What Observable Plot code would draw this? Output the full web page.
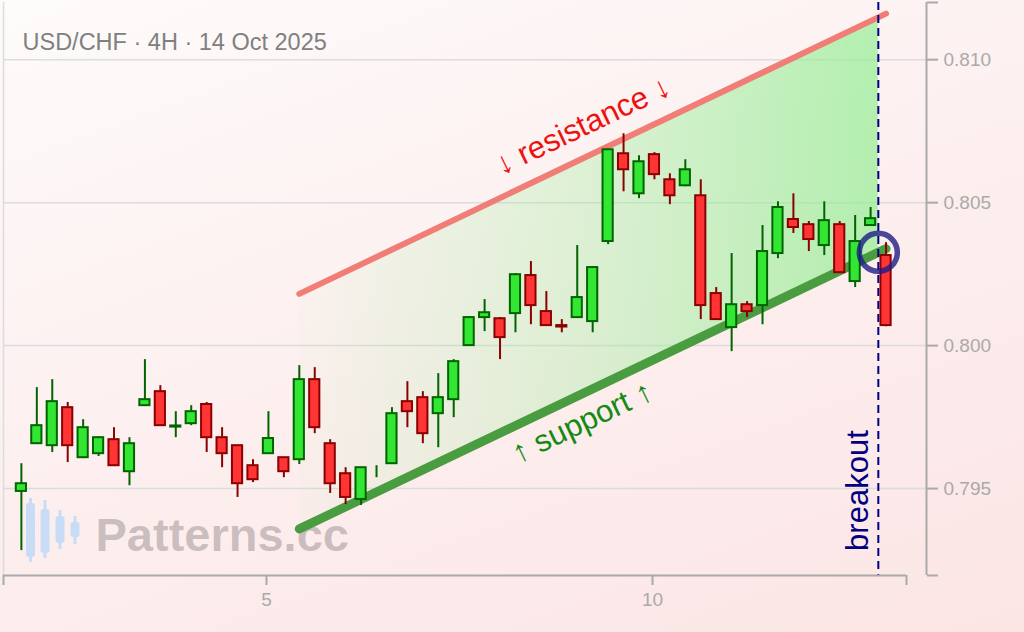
<!DOCTYPE html>
<html><head><meta charset="utf-8">
<script src="https://cdn.jsdelivr.net/npm/d3@7"></script>
<script src="https://cdn.jsdelivr.net/npm/@observablehq/plot@0.6"></script>
<style>
html,body{margin:0;padding:0;}
body{width:1024px;height:632px;overflow:hidden;position:relative;
  background:linear-gradient(160deg,#fefbfb 0%,#fdf0f0 45%,#fce5e5 100%);
  font-family:"Liberation Sans",Arial,sans-serif;}
#logo{position:absolute;left:0;top:0;}
#chart{position:absolute;left:0;top:0;}
</style></head><body>
<svg id="logo" width="100" height="632">
  <g fill="#c8dcf6" stroke="#c8dcf6">
    <line x1="30.5" x2="30.5" y1="498" y2="562" stroke-width="3"/><rect x="26" y="503" width="9" height="54" rx="3" stroke="none"/>
    <line x1="45" x2="45" y1="500" y2="558" stroke-width="3"/><rect x="40.5" y="509" width="9" height="44" rx="3" stroke="none"/>
    <line x1="60" x2="60" y1="510" y2="549" stroke-width="3"/><rect x="55.5" y="516" width="9" height="27" rx="3" stroke="none"/>
    <line x1="75" x2="75" y1="516" y2="544" stroke-width="3"/><rect x="70.5" y="522" width="9" height="15" rx="3" stroke="none"/>
  </g>
</svg>
<div id="chart"></div>
<script>
const title = "USD/CHF · 4H · 14 Oct 2025";
const watermark = "Patterns.cc";

// OHLC per 4H candle
const opens  = [0.79490,0.79657,0.79650,0.79783,0.79608,0.79622,0.79671,0.79559,0.79790,0.79839,
                0.79715,0.79727,0.79794,0.79678,0.79650,0.79580,0.79622,0.79608,0.79601,0.79881,
                0.79657,0.79552,0.79462,0.79559,0.79587,0.79804,0.79818,0.79762,0.79811,0.80000,
                0.80098,0.80094,0.80112,0.80245,0.80119,0.80070,0.80098,0.80084,0.80364,0.80671,
                0.80531,0.80668,0.80580,0.80559,0.80524,0.80182,0.80063,0.80143,0.80140,0.80322,
                0.80441,0.80423,0.80350,0.80423,0.80224,0.80420,0.80315];
const highs  = [0.79587,0.79853,0.79881,0.79801,0.79741,0.79680,0.79713,0.79678,0.79951,0.79860,
                0.79769,0.79790,0.79801,0.79713,0.79650,0.79601,0.79769,0.79608,0.79930,0.79923,
                0.79671,0.79573,0.79573,0.79580,0.79783,0.79874,0.79839,0.79902,0.79951,0.80101,
                0.80161,0.80098,0.80252,0.80294,0.80189,0.80091,0.80350,0.80276,0.80685,0.80741,
                0.80664,0.80675,0.80601,0.80650,0.80580,0.80203,0.80322,0.80154,0.80420,0.80503,
                0.80531,0.80434,0.80503,0.80434,0.80455,0.80483,0.80360];
const lows   = [0.79283,0.79654,0.79626,0.79591,0.79605,0.79612,0.79577,0.79510,0.79787,0.79717,
                0.79678,0.79720,0.79626,0.79573,0.79469,0.79521,0.79622,0.79538,0.79584,0.79692,
                0.79483,0.79444,0.79441,0.79538,0.79587,0.79713,0.79657,0.79643,0.79748,0.80000,
                0.80049,0.79951,0.80045,0.80073,0.80070,0.80045,0.80098,0.80045,0.80353,0.80538,
                0.80514,0.80580,0.80493,0.80556,0.80091,0.80091,0.79979,0.80098,0.80073,0.80304,
                0.80392,0.80329,0.80315,0.80252,0.80203,0.80420,0.80066];
const closes = [0.79517,0.79720,0.79804,0.79650,0.79713,0.79678,0.79580,0.79657,0.79811,0.79720,
                0.79719,0.79769,0.79678,0.79622,0.79517,0.79531,0.79675,0.79559,0.79881,0.79713,
                0.79517,0.79469,0.79573,0.79559,0.79762,0.79769,0.79692,0.79818,0.79944,0.80098,
                0.80115,0.80028,0.80248,0.80140,0.80070,0.80065,0.80168,0.80273,0.80685,0.80615,
                0.80643,0.80598,0.80524,0.80615,0.80140,0.80091,0.80143,0.80119,0.80329,0.80483,
                0.80413,0.80371,0.80437,0.80255,0.80364,0.80444,0.80070];
const candleStart = 1.825, candleStep = 0.2;

// channel (support / resistance) endpoints
const channelX    = [5.425, 13.025];
const resistanceY = [0.80181, 0.81161];
const supportY    = [0.79359, 0.80339];
const breakoutX   = 12.925;

// axes
const xTickLabels = [5, 10];
const yTickLabels = [0.795, 0.800, 0.805, 0.810];
const xDomain = [1.5933, 13.549];
const xAxisEnd = 13.290;
const yDomain = [0.79196, 0.8120];

// annotation anchors
const resistanceLabel = {x: 9.10, y: 0.80769, text: "↓ resistance ↓"};
const supportLabel    = {x: 9.09, y: 0.79732, text: "↑ support ↑"};
const breakoutLabel   = {x: 12.668, y: 0.79493, text: "breakout"};

const candles = opens.map((o, i) => ({
  x: candleStart + i * candleStep, o, h: highs[i], l: lows[i], c: closes[i], up: closes[i] >= o
}));
const lerp = (arr, x) => arr[0] + (arr[1] - arr[0]) * (x - channelX[0]) / (channelX[1] - channelX[0]);
const channelArea = [channelX[0], breakoutX].map(x => ({x, lo: lerp(supportY, x), hi: lerp(resistanceY, x)}));
const resLine = channelX.map((x, i) => ({x, y: resistanceY[i]}));
const supLine = channelX.map((x, i) => ({x, y: supportY[i]}));
const breakPoint = [{x: breakoutX, y: lerp(supportY, breakoutX)}];
const halfBody = 0.066;
const angle = -25.5;
const f3 = d3.format(".3f");

const chart = Plot.plot({
  width: 1024, height: 632,
  marginLeft: 3, marginRight: 98, marginTop: 2, marginBottom: 57,
  x: {domain: xDomain},
  y: {domain: yDomain},
  color: {type: "identity"},
  style: {background: "transparent", fontFamily: "Liberation Sans, Arial, sans-serif"},
  marks: [
    () => {
      const defs = document.createElementNS("http://www.w3.org/2000/svg", "defs");
      defs.innerHTML = '<linearGradient id="chanFill" x1="0" x2="1" y1="0" y2="0">' +
        '<stop offset="0" stop-color="#90ee90" stop-opacity="0.03"/>' +
        '<stop offset="0.5" stop-color="#90ee90" stop-opacity="0.3"/>' +
        '<stop offset="1" stop-color="#90ee90" stop-opacity="0.68"/></linearGradient>';
      return defs;
    },
    Plot.ruleY(yTickLabels, {x1: xDomain[0], x2: xDomain[1], stroke: "#dcdcdc", strokeWidth: 1.5}),
    Plot.ruleX([xDomain[0]], {stroke: "#dcdcdc", strokeWidth: 1.5}),
    Plot.text([title], {frameAnchor: "top-left", dx: 19, dy: 47, lineAnchor: "bottom", textAnchor: "start",
      fontSize: 23.5, fill: "#808080"}),
    Plot.text([watermark], {frameAnchor: "bottom-left", dx: 92, dy: -25, lineAnchor: "bottom", textAnchor: "start",
      fontSize: 47, fontWeight: "bold", fill: "#7a7070", fillOpacity: 0.38}),
    Plot.areaY(channelArea, {x: "x", y1: "lo", y2: "hi", fill: "url(#chanFill)"}),
    Plot.line(resLine, {x: "x", y: "y", stroke: "#f07e76", strokeWidth: 6, strokeLinecap: "round"}),
    Plot.line(supLine, {x: "x", y: "y", stroke: "#4a9c40", strokeWidth: 9, strokeLinecap: "round"}),
    Plot.ruleX([breakoutX], {stroke: "#000080", strokeWidth: 2, strokeDasharray: "8,5"}),
    Plot.ruleX(candles, {x: "x", y1: "l", y2: "h", stroke: d => d.up ? "#006400" : "#8b0000", strokeWidth: 2}),
    Plot.rect(candles.filter(d => d.o !== d.c), {
      x1: d => d.x - halfBody, x2: d => d.x + halfBody, y1: "o", y2: "c",
      fill: d => d.up ? "#33e633" : "#ff3535", stroke: d => d.up ? "#006400" : "#8b0000", strokeWidth: 2
    }),
    Plot.dot(breakPoint, {x: "x", y: "y", r: 19, fill: "none", stroke: "#1c1c86", strokeOpacity: 0.8, strokeWidth: 5.5}),
    Plot.text([resistanceLabel], {x: "x", y: "y", text: "text", rotate: angle, fontSize: 31, fill: "#ee1111"}),
    Plot.text([supportLabel], {x: "x", y: "y", text: "text", rotate: angle, fontSize: 31, fill: "#138a13"}),
    Plot.text([breakoutLabel], {x: "x", y: "y", text: "text", rotate: -90, fontSize: 31, fill: "#000080"}),
    Plot.ruleY([yDomain[0]], {x1: xDomain[0], x2: xAxisEnd, stroke: "#aaaaaa", strokeWidth: 2}),
    Plot.axisX({ticks: [xDomain[0], ...xTickLabels, xAxisEnd],
      tickFormat: d => xTickLabels.includes(d) ? String(d) : "",
      tickSize: 10, tickPadding: 7, color: "#aaaaaa", strokeWidth: 2, fontSize: 19, label: null}),
    Plot.ruleX([xDomain[1]], {y1: yDomain[0], y2: yDomain[1], stroke: "#aaaaaa", strokeWidth: 2}),
    Plot.axisY({anchor: "right", ticks: [yDomain[0], ...yTickLabels, yDomain[1]],
      tickFormat: d => yTickLabels.some(t => Math.abs(t - d) < 1e-9) ? f3(d) : "",
      tickSize: 11, tickPadding: 6, color: "#aaaaaa", strokeWidth: 2, fontSize: 19, label: null})
  ]
});
document.getElementById("chart").append(chart);
</script>
</body></html>
